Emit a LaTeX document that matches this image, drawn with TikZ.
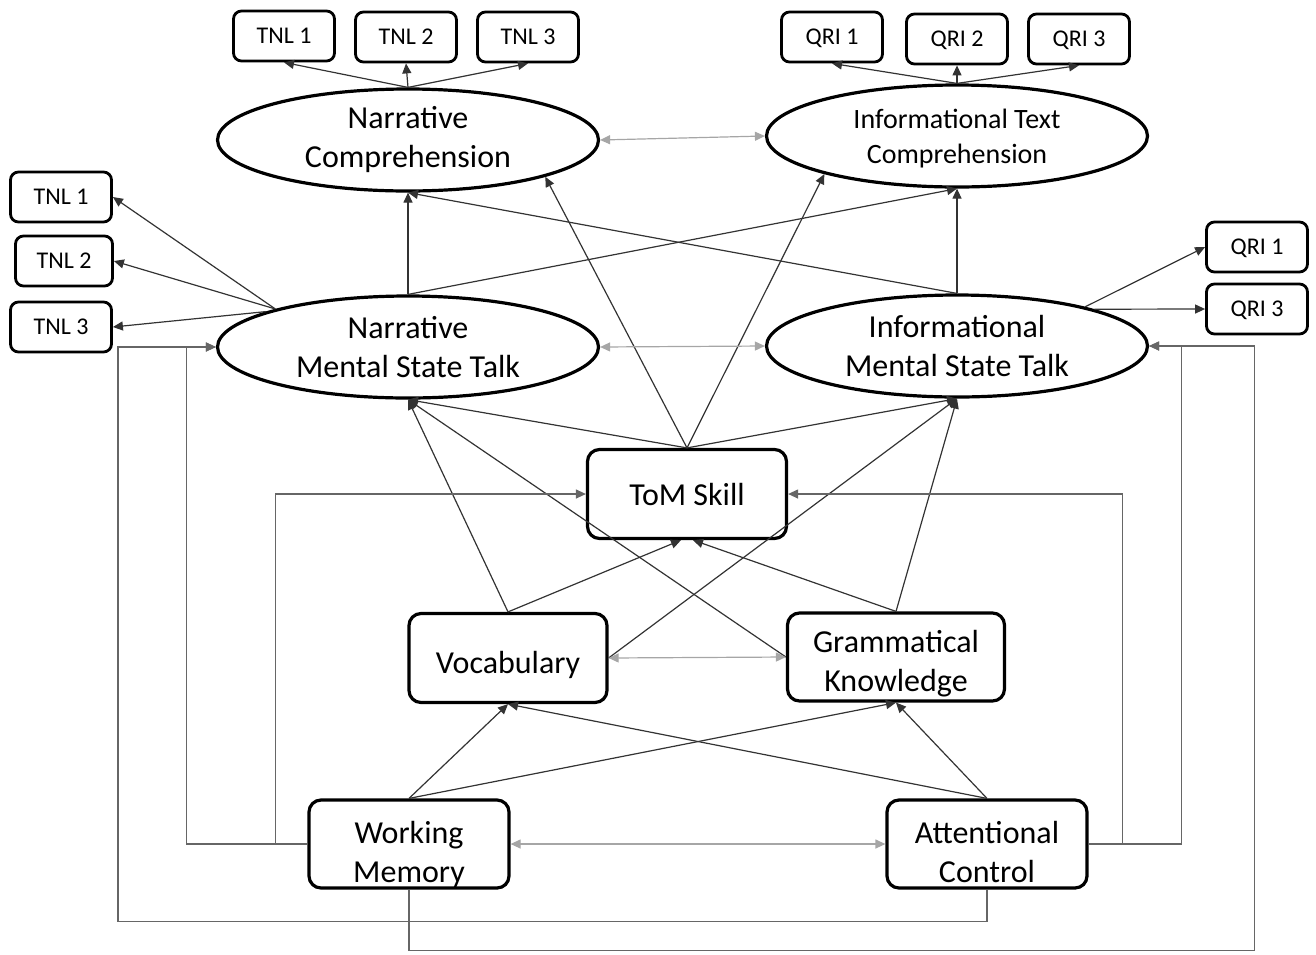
\documentclass[tikz,border=0pt]{standalone}
\usepackage{fontspec}
\setmainfont{Carlito}
\usetikzlibrary{shapes.geometric,arrows.meta,calc}

\tikzset{every picture/.style={line width=0.6pt}}
\tikzset{
  latent/.style={ellipse, draw, line width=1.6pt, minimum width=190.5pt, minimum height=51pt, inner sep=0pt, align=center, font=\fontsize{16}{19.5}\selectfont},
  construct/.style={rectangle, rounded corners=6pt, draw, line width=1.6pt, minimum width=100pt, minimum height=44.5pt, inner sep=0pt, font=\fontsize{16}{19.5}\selectfont},
  indicator/.style={rectangle, rounded corners=4pt, draw, line width=1.4pt, minimum width=50.5pt, minimum height=25pt, inner sep=0pt, text height=7.5pt, text depth=0pt, font=\fontsize{12}{14}\selectfont},
  effect/.style={draw=black!80, -{Triangle[length=5pt,width=4.5pt]}},
  routed/.style={draw=black!60, -{Triangle[length=5pt,width=4.5pt]}},
  covar/.style={draw=black!35, {Triangle[length=5pt,width=4.5pt]}-{Triangle[length=5pt,width=4.5pt]}}
}
% first baseline of the label set #1 from the centre of the shape
\newcommand{\boxlabel}[2]{\raisebox{#1}[0pt][0pt]{\begin{tabular}[t]{@{}c@{}}#2\end{tabular}}}

\begin{document}
\begin{tikzpicture}[x=0.5pt,y=0.5pt,yscale=-1,xscale=1]
\useasboundingbox (0,0) rectangle (1316,954);

%Shape: Ellipse [latent variables]
\node[latent] (nc) at (408,140) {Narrative\\Comprehension};
\node[latent, font=\fontsize{14}{17.5}\selectfont] (itc) at (957,136) {\boxlabel{4pt}{Informational Text\\Comprehension}};
\node[latent] (nmst) at (408,347) {Narrative\\Mental State Talk};
\node[latent] (imst) at (957,346) {Informational\\Mental State Talk};

%Shape: Rectangle [indicators]
\node[indicator] (tnlA) at (284,36) {TNL 1};
\node[indicator] (tnlB) at (406,37) {TNL 2};
\node[indicator] (tnlC) at (528,37) {TNL 3};
\node[indicator] (qriA) at (832,37) {QRI 1};
\node[indicator] (qriB) at (957,39) {QRI 2};
\node[indicator] (qriC) at (1079,39) {QRI 3};
\node[indicator] (tnlD) at (61,197) {TNL 1};
\node[indicator, minimum width=48.5pt] (tnlE) at (64,261) {TNL 2};
\node[indicator] (tnlF) at (61,327) {TNL 3};
\node[indicator] (qriD) at (1257,247) {QRI 1};
\node[indicator] (qriE) at (1257,309) {QRI 3};

%Shape: Rectangle [observed constructs]
\node[construct, minimum width=99.5pt] (tom) at (687,494) {\boxlabel{-5.5pt}{ToM Skill}};
\node[construct, minimum width=99pt] (voc) at (508,658) {\boxlabel{-7.5pt}{Vocabulary}};
\node[construct, minimum width=108.5pt, minimum height=44pt] (gram) at (896,657) {\boxlabel{2.5pt}{Grammatical\\Knowledge}};
\node[construct, minimum height=44pt] (wm) at (409,844) {\boxlabel{0.5pt}{Working\\Memory}};
\node[construct, minimum height=44pt] (ac) at (987,844) {\boxlabel{0.5pt}{Attentional\\Control}};

%Straight Lines [measurement]
\draw[effect] (nc.north) -- (tnlA.south);
\draw[effect] (nc.north) -- (tnlB.south);
\draw[effect] (nc.north) -- (tnlC.south);
\draw[effect] (itc.north) -- (qriA.south);
\draw[effect] (itc.north) -- (qriB.south);
\draw[effect] (itc.north) -- (qriC.south);
\draw[effect] (nmst.164) -- (tnlD.east);
\draw[effect] (nmst.164) -- (tnlE.east);
\draw[effect] (nmst.166) -- (tnlF.east);
\draw[effect] (imst.17) -- (qriD.west);
\draw[effect] (imst.15) -- (qriE.west);

%Straight Lines [structural]
\draw[effect] (nmst.north) -- (nc.south);
\draw[effect] (nmst.north) -- (itc.south);
\draw[effect] (imst.north) -- (nc.south);
\draw[effect] (imst.north) -- (itc.south);
\draw[effect] (tom.north) -- (nc.-15);
\draw[effect] (tom.north) -- (itc.196);
\draw[effect] (tom.north) -- (nmst.south);
\draw[effect] (tom.north) -- (imst.south);
\draw[effect] (voc.north) -- (nmst.south);
\draw[effect] (voc.east) -- (imst.south);
\draw[effect] (gram.west) -- (nmst.south);
\draw[effect] (gram.north) -- (imst.south);
\draw[effect] (voc.north) -- ($(tom.south)+(-6,0)$);
\draw[effect] (gram.north) -- ($(tom.south)+(6,0)$);
\draw[effect] (wm.north) -- (voc.south);
\draw[effect] (wm.north) -- (gram.south);
\draw[effect] (ac.north) -- (voc.south);
\draw[effect] (ac.north) -- (gram.south);

%Straight Lines [covariances]
\draw[covar] (nc.east) -- (itc.west);
\draw[covar] (nmst.east) -- (imst.west);
\draw[covar] (voc.east) -- (gram.west);
\draw[covar] (wm.east) -- (ac.west);

%Connector [elbow lines]
\draw[routed] (wm.west) -- ++(-121,0) |- (nmst.west);
\draw[routed] (wm.west) -- ++(-32,0) |- (tom.west);
\draw[routed] (ac.east) -- ++(34,0) |- (tom.east);
\draw[routed] (ac.east) -- ++(93,0) |- (imst.east);
\draw[routed] (wm.south) -- ++(0,61) -| ($(imst.east)+(105,0)$) -- (imst.east);
\draw[routed] (ac.south) -- ++(0,32) -| ($(nmst.west)+(-98,0)$) -- (nmst.west);

\end{tikzpicture}
\end{document}
